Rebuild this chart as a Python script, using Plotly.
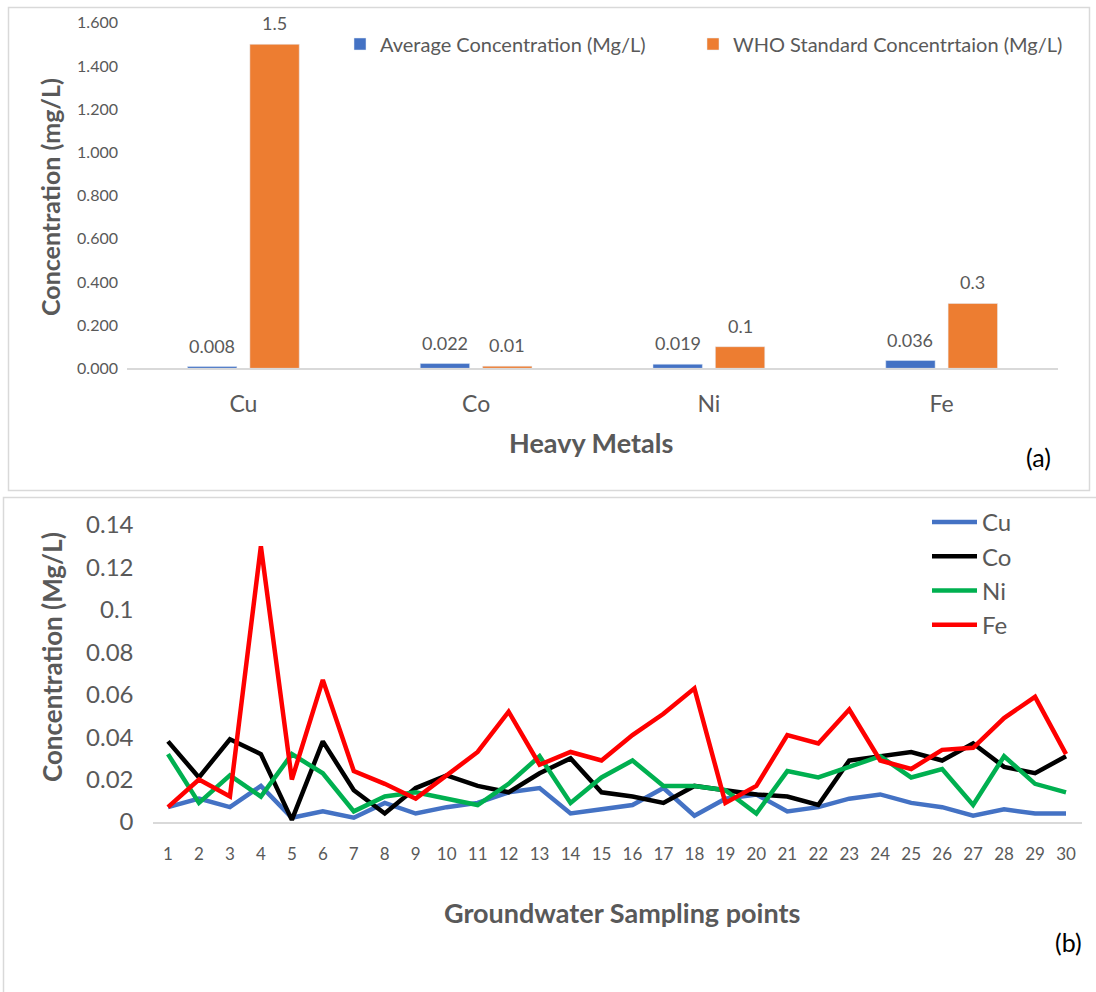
import plotly.graph_objects as go

W, H = 1096, 992

# ---- Panel (a) data ----
metals = ["Cu", "Co", "Ni", "Fe"]
avg_conc = [0.008, 0.022, 0.019, 0.036]
who_std = [1.5, 0.01, 0.1, 0.3]

# ---- Panel (b) data ----
points = list(range(1, 31))
cu = [0.007, 0.011, 0.007, 0.017, 0.002, 0.005, 0.002, 0.009, 0.004, 0.007,
      0.009, 0.014, 0.016, 0.004, 0.006, 0.008, 0.016, 0.003, 0.011, 0.013,
      0.005, 0.007, 0.011, 0.013, 0.009, 0.007, 0.003, 0.006, 0.004, 0.004]
co = [0.038, 0.021, 0.039, 0.032, 0.001, 0.038, 0.015, 0.004, 0.016, 0.022,
      0.017, 0.014, 0.023, 0.030, 0.014, 0.012, 0.009, 0.017, 0.015, 0.013,
      0.012, 0.008, 0.029, 0.031, 0.033, 0.029, 0.037, 0.026, 0.023, 0.031]
ni = [0.032, 0.009, 0.022, 0.012, 0.032, 0.023, 0.005, 0.012, 0.014, 0.011,
      0.008, 0.018, 0.031, 0.009, 0.021, 0.029, 0.017, 0.017, 0.015, 0.004,
      0.024, 0.021, 0.026, 0.031, 0.021, 0.025, 0.008, 0.031, 0.018, 0.014]
fe = [0.007, 0.020, 0.012, 0.130, 0.020, 0.067, 0.024, 0.018, 0.011, 0.022,
      0.033, 0.052, 0.027, 0.033, 0.029, 0.041, 0.051, 0.063, 0.009, 0.017,
      0.041, 0.037, 0.053, 0.029, 0.025, 0.034, 0.035, 0.049, 0.059, 0.032]
line_names = ["Cu", "Co", "Ni", "Fe"]
line_colors = ["#4472C4", "#000000", "#00B050", "#FF0000"]

FONT = "Lato"
GREY = "#595959"
AXIS = "#D9D9D9"

X1_DOM = (127, 1058)
BARGAP = 0.464
BARGROUPGAP = 0.208


def px(x):
    return x / W


def py(y):
    return 1 - y / H


fig = go.Figure()

fig.add_trace(go.Bar(
    x=metals, y=avg_conc, name="Average Concentration (Mg/L)",
    marker_color="#4472C4", xaxis="x", yaxis="y", legend="legend",
    legendwidth=308))
fig.add_trace(go.Bar(
    x=metals, y=who_std, name="WHO Standard Concentrtaion (Mg/L)",
    marker_color="#ED7D31", xaxis="x", yaxis="y", legend="legend"))

for name, vals, color in zip(line_names, [cu, co, ni, fe], line_colors):
    fig.add_trace(go.Scatter(
        x=points, y=vals, mode="lines", name=name,
        line=dict(color=color, width=4.5),
        xaxis="x2", yaxis="y2", legend="legend2"))

fig.update_layout(
    width=W, height=H, autosize=False,
    margin=dict(l=0, r=0, t=0, b=0, pad=0, autoexpand=False),
    paper_bgcolor="white", plot_bgcolor="white",
    font=dict(family=FONT, color=GREY),
    barmode="group", bargap=BARGAP, bargroupgap=BARGROUPGAP,
    xaxis=dict(domain=[px(X1_DOM[0]), px(X1_DOM[1])], anchor="y",
               automargin=False,
               showline=True, linecolor=AXIS, linewidth=1.5,
               showgrid=False, zeroline=False, ticks="",
               tickfont=dict(size=23, color=GREY), ticklabelstandoff=14),
    yaxis=dict(domain=[py(368.3), py(22.7)], anchor="x", automargin=False,
               range=[0, 1.6], dtick=0.2, tickformat=".3f",
               showgrid=False, zeroline=False, showline=False,
               tickfont=dict(size=16, color=GREY), ticklabelstandoff=8),
    xaxis2=dict(domain=[px(152.5), px(1081.5)], anchor="y2", automargin=False,
                range=[0.5, 30.5], tickvals=points,
                ticktext=[str(p) for p in points],
                showline=True, linecolor=AXIS, linewidth=2,
                showgrid=False, zeroline=False, ticks="",
                tickfont=dict(size=17, color=GREY), ticklabelstandoff=16),
    yaxis2=dict(domain=[py(822), py(525)], anchor="x2", automargin=False,
                range=[0, 0.14], dtick=0.02,
                showgrid=False, zeroline=False, showline=False,
                tickfont=dict(size=24, color=GREY), ticklabelstandoff=18),
    legend=dict(orientation="h", x=px(340), y=py(44), xanchor="left",
                yanchor="middle", font=dict(size=20, color=GREY),
                bgcolor="rgba(0,0,0,0)"),
    legend2=dict(orientation="v", x=px(927), y=py(573.5), xanchor="left",
                 yanchor="middle", font=dict(size=24, color=GREY),
                 itemwidth=45, bgcolor="rgba(0,0,0,0)"),
    showlegend=True,
)

# value labels above bars (offset of each bar from its category centre)
cat_w = (X1_DOM[1] - X1_DOM[0]) / len(metals)
slot = cat_w * (1 - BARGAP) / 2
for vals, shift in [(avg_conc, -slot / 2), (who_std, slot / 2)]:
    for m, v in zip(metals, vals):
        fig.add_annotation(x=m, y=v, xref="x", yref="y", text=str(v),
                           showarrow=False, xshift=shift, yshift=21,
                           xanchor="center", yanchor="middle",
                           font=dict(size=18, color=GREY))

annots = [
    dict(text="<b>Concentration (mg/L)</b>", x=px(50), y=py(197),
         textangle=-90, font=dict(size=25, color=GREY)),
    dict(text="<b>Heavy Metals</b>", x=px(591), y=py(443),
         font=dict(size=27, color=GREY)),
    dict(text="(a)", x=px(1038), y=py(457), font=dict(size=25, color="black")),
    dict(text="<b>Concentration (Mg/L)</b>", x=px(52), y=py(657),
         textangle=-90, font=dict(size=26, color=GREY)),
    dict(text="<b>Groundwater Sampling points</b>", x=px(622), y=py(912),
         font=dict(size=27, color=GREY)),
    dict(text="(b)", x=px(1068), y=py(942), font=dict(size=25, color="black")),
]
for a in annots:
    fig.add_annotation(xref="paper", yref="paper", showarrow=False,
                       xanchor="center", yanchor="middle", **a)

fig.add_shape(type="rect", xref="paper", yref="paper",
              x0=px(8.5), x1=px(1089.5), y0=py(490.5), y1=py(7.5),
              line=dict(color=AXIS, width=1.5), fillcolor="rgba(0,0,0,0)")
fig.add_shape(type="rect", xref="paper", yref="paper",
              x0=px(3.5), x1=px(1110), y0=py(1010), y1=py(497.5),
              line=dict(color=AXIS, width=1.5), fillcolor="rgba(0,0,0,0)")

fig.write_html("out.html",
               config={"displayModeBar": False},
               post_script="document.body.style.margin='0';"
                           "document.documentElement.style.overflow='hidden';")
